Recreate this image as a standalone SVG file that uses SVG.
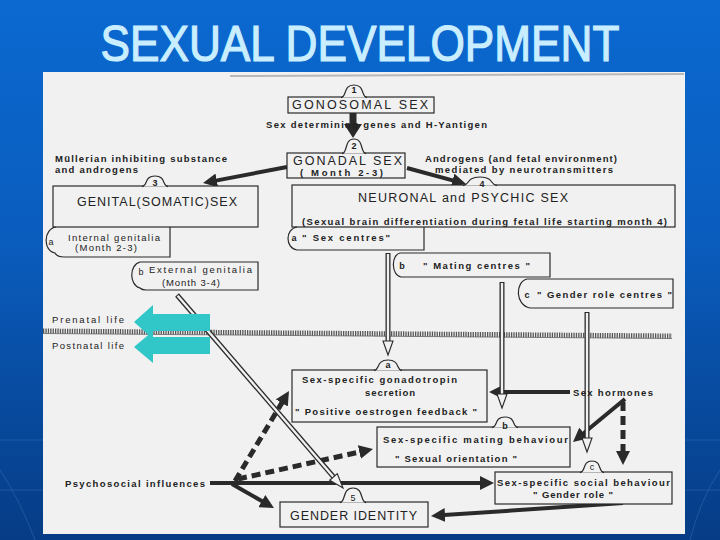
<svg xmlns="http://www.w3.org/2000/svg" width="720" height="540" viewBox="0 0 720 540">
<defs>
<linearGradient id="bg" x1="0" y1="0" x2="0" y2="1">
<stop offset="0" stop-color="#0b69d0"/>
<stop offset="0.45" stop-color="#0a5cbd"/>
<stop offset="1" stop-color="#063c85"/>
</linearGradient>
<marker id="ah" viewBox="0 0 14 14" markerWidth="14" markerHeight="14" refX="1" refY="7" orient="auto" markerUnits="userSpaceOnUse"><path d="M0,0 L14,7 L0,14 z" fill="#2a2a2a"/></marker>
<marker id="ahL" viewBox="0 0 18 18" markerWidth="18" markerHeight="18" refX="1" refY="9" orient="auto" markerUnits="userSpaceOnUse"><path d="M0,0 L14,9 L0,18 z" fill="#2a2a2a"/></marker>
<style>
.box{fill:#f1f1f1;stroke:#2a2a2a;stroke-width:1.2}
.sub{fill:none;stroke:#2a2a2a;stroke-width:1.2}
.tab{fill:#f1f1f1;stroke:#2a2a2a;stroke-width:1.2}
.t1{font-family:"Liberation Sans",Arial,sans-serif;font-size:12.5px;fill:#222}
.t2{font-family:"Liberation Sans",Arial,sans-serif;font-size:9.5px;font-weight:bold;fill:#222}
.t3{font-family:"Liberation Sans",Arial,sans-serif;font-size:9.5px;fill:#222}
.tn{font-family:"Liberation Sans",Arial,sans-serif;font-size:9px;font-weight:bold;fill:#222;text-anchor:middle}
.tm{font-family:"Liberation Sans",Arial,sans-serif;font-size:9px;fill:#222;text-anchor:middle}
.sol{fill:none;stroke:#2a2a2a;stroke-width:4;marker-end:url(#ah)}
.dsh{fill:none;stroke:#2a2a2a;stroke-width:5;stroke-dasharray:9 5;marker-end:url(#ah)}
.hs{stroke:#2a2a2a;stroke-width:5}
.hi{stroke:#f1f1f1;stroke-width:2.4}
.hh{fill:#f1f1f1;stroke:#2a2a2a;stroke-width:1.1}
.teal{fill:#31c6c8}
</style>
</defs>

<rect x="0" y="0" width="720" height="540" fill="url(#bg)"/>
<g stroke="#4d86cc" stroke-width="1" opacity="0.35" fill="none">
<path d="M0,440 L43,440"/><path d="M0,490 L43,490"/><path d="M0,470 Q20,500 35,540"/>
<path d="M686,440 L720,440"/><path d="M686,490 L720,490"/><path d="M720,470 Q700,500 690,540"/>
</g>

<text x="360" y="61" text-anchor="middle" font-family="'Liberation Sans',Arial,sans-serif" font-size="50" fill="#c9eeff" stroke="#c9eeff" stroke-width="1.2" textLength="519" lengthAdjust="spacingAndGlyphs">SEXUAL DEVELOPMENT</text>

<rect x="43" y="72" width="642" height="462" fill="#f1f1f1"/>
<path d="M230,76 L684,74" stroke="#b8b8b8" stroke-width="2" fill="none"/>

<g id="boundary">
<line x1="43" y1="331" x2="672" y2="336" stroke="#555" stroke-width="5" stroke-dasharray="1.3 1.1"/>
<line x1="43" y1="333.5" x2="672" y2="338.5" stroke="#666" stroke-width="0.8"/>
<text class="t3" x="52" y="323" textLength="72">Prenatal life</text>
<text class="t3" x="52" y="349" textLength="72">Postnatal life</text>
</g>

<g id="connectors">
<line class="sol" x1="353" y1="113" x2="353" y2="125" style="stroke-width:7;marker-end:url(#ahL)"/>
<line class="sol" x1="287" y1="167" x2="215.8" y2="180.6"/>
<line class="sol" x1="407" y1="168" x2="453.5" y2="180.6"/>
<line class="sol" x1="570" y1="392" x2="502" y2="392"/>
<line class="sol" x1="625" y1="399" x2="583" y2="433.7"/>
<line class="dsh" x1="623" y1="402" x2="623" y2="452"/>
<line class="sol" x1="210" y1="483" x2="481" y2="483"/>
<line class="sol" x1="232" y1="484" x2="262.7" y2="501.6"/>
<line class="dsh" x1="235" y1="481" x2="282.3" y2="402.1"/>
<line class="dsh" x1="238" y1="479" x2="360.3" y2="451.8"/>
<line class="sol" x1="623" y1="503" x2="444" y2="515.1"/>

<g transform="translate(388,253) rotate(90)"><line class="hs" x1="0" y1="0" x2="90" y2="0"/><line class="hi" x1="1" y1="0" x2="90" y2="0"/><polygon class="hh" points="88,-5 88,5 102,0"/></g>
<g transform="translate(502,282) rotate(90)"><line class="hs" x1="0" y1="0" x2="114" y2="0"/><line class="hi" x1="1" y1="0" x2="114" y2="0"/><polygon class="hh" points="112,-5 112,5 126,0"/></g>
<g transform="translate(587,312) rotate(90)"><line class="hs" x1="0" y1="0" x2="128" y2="0"/><line class="hi" x1="1" y1="0" x2="128" y2="0"/><polygon class="hh" points="126,-5 126,5 140,0"/></g>
<g transform="translate(177,295) rotate(49.3)"><line class="hs" x1="0" y1="0" x2="242" y2="0"/><line class="hi" x1="1" y1="0" x2="242" y2="0"/><polygon class="hh" points="240,-5 240,5 254.6,0"/></g>

<text class="t2" x="266" y="128" textLength="221">Sex determining genes and H-Yantigen</text>
<text class="t2" x="55" y="162" textLength="172">Müllerian inhibiting substance</text>
<text class="t2" x="55" y="172.5" textLength="83">and androgens</text>
<text class="t2" x="425" y="162" textLength="192">Androgens (and fetal environment)</text>
<text class="t2" x="435" y="173" textLength="178">mediated  by neurotransmitters</text>
<text class="t2" x="573" y="396" textLength="80">Sex hormones</text>
<text class="t2" x="65" y="487" textLength="140">Psychosocial influences</text>
</g>

<g id="n1">
<rect class="box" x="288" y="97" width="146" height="16"/>
<path class="tab" d="M341,97.6 C347,97 343,85 354,85 C365,85 361,97 367,97.6"/>
<text class="tn" x="354" y="93">1</text>
<text class="t1" x="292" y="109" textLength="136">GONOSOMAL SEX</text>
</g>

<g id="n2">
<rect class="box" x="287" y="153" width="118" height="25"/>
<path class="tab" d="M342,153.6 C348,153 344,139 354,139 C364,139 360,153 366,153.6"/>
<text class="tn" x="354" y="149">2</text>
<text class="t1" x="293" y="165" textLength="109">GONADAL SEX</text>
<text class="t2" x="300" y="176" textLength="83">( Month 2-3)</text>
</g>

<g id="n3">
<rect class="box" x="53" y="186" width="205" height="41"/>
<path class="tab" d="M142,186.6 C148,186 144,176 155,176 C166,176 162,186 168,186.6"/>
<text class="tn" x="155" y="186">3</text>
<text class="t1" x="77" y="206" textLength="160">GENITAL(SOMATIC)SEX</text>
</g>

<g id="n3a">
<path class="sub" d="M56,227 C43,229 43,251 55,253 Q57,257 64,257 L170,257 L170,227"/>
<text class="tm" x="51" y="245">a</text>
<text class="t3" x="68" y="241" textLength="92">Internal genitalia</text>
<text class="t3" x="75" y="251" textLength="62">(Month 2-3)</text>
</g>

<g id="n3b">
<path class="sub" d="M140,262 L258,262 L258,290 L146,290 Q142,290 140,288 C129,285 129,265 140,262 Z"/>
<text class="tm" x="141" y="275">b</text>
<text class="t3" x="149" y="273" textLength="103">External genitalia</text>
<text class="t3" x="162" y="286" textLength="58">(Month 3-4)</text>
</g>

<g id="n4">
<rect class="box" x="292" y="185" width="383" height="42"/>
<path class="tab" d="M463,185.6 C470,185 466,177 480,177 C494,177 490,185 497,185.6"/>
<text class="tn" x="482" y="187">4</text>
<text class="t1" x="358" y="202" textLength="210">NEURONAL and PSYCHIC SEX</text>
<text class="t2" x="302" y="224.5" textLength="365">(Sexual brain differentiation during fetal life starting month 4)</text>
</g>

<g id="n4a">
<path class="sub" d="M297,227 C285,229 285,248 297,250 L424,250 L424,227"/>
<text class="tn" x="294" y="241">a</text>
<text class="t2" x="302" y="241" textLength="88">" Sex centres"</text>
</g>

<g id="n4b">
<path class="sub" d="M400,253 L550,253 L550,277 L401,277 C391,275 391,255 400,253 Z"/>
<text class="tn" x="402" y="269">b</text>
<text class="t2" x="423" y="269" textLength="107">" Mating centres "</text>
</g>

<g id="n4c">
<path class="sub" d="M527,279 L673,279 L673,308 L530,308 C515,305 515,282 527,279 Z"/>
<text class="tn" x="527" y="298">c</text>
<text class="t2" x="537" y="298" textLength="135">" Gender role centres "</text>
</g>

<g id="n5a">
<rect class="box" x="292" y="370" width="195" height="52"/>
<path class="tab" d="M374,370.6 C380,370 376,360 388,360 C400,360 396,370 402,370.6"/>
<text class="tn" x="388" y="368">a</text>
<text class="t2" x="302" y="383" textLength="155">Sex-specific gonadotropin</text>
<text class="t2" x="365" y="396" textLength="50">secretion</text>
<text class="t2" x="295" y="415" textLength="182">" Positive oestrogen feedback "</text>
</g>

<g id="n5b">
<rect class="box" x="377" y="427" width="193" height="40"/>
<path class="tab" d="M492,427.6 C498,427 494,417 505,417 C516,417 512,427 518,427.6"/>
<text class="tn" x="505" y="429">b</text>
<text class="t2" x="383" y="443" textLength="185">Sex-specific mating behaviour</text>
<text class="t2" x="395" y="462" textLength="122">" Sexual orientation "</text>
</g>

<g id="n5c">
<rect class="box" x="495" y="472" width="177" height="32"/>
<path class="tab" d="M580,472.6 C586,472 582,461 592,461 C602,461 598,472 604,472.6"/>
<text class="tm" x="592" y="470">c</text>
<text class="t2" x="497" y="486" textLength="173">Sex-specific social behaviour</text>
<text class="t2" x="533" y="498" textLength="80">" Gender role "</text>
</g>

<g id="n5">
<rect class="box" x="280" y="502" width="148" height="25"/>
<path class="tab" d="M340,502.6 C346,502 342,488 353,488 C364,488 360,502 366,502.6"/>
<text class="tm" x="353" y="501">5</text>
<text class="t1" x="290" y="520" textLength="127">GENDER IDENTITY</text>
</g>

<g id="teal-arrows">
<polygon class="teal" points="134,322 153,305 153,314 210,314 210,331 153,331 153,339"/>
<polygon class="teal" points="134,347 153,331 153,337 210,337 210,354 153,354 153,363"/>
</g>
</svg>
